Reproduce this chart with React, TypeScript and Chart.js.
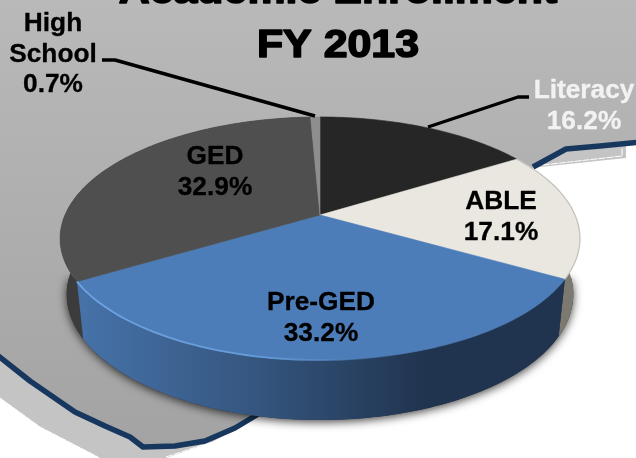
import React, { useEffect, useRef } from "react";
import { Chart, registerables } from "chart.js";

Chart.register(...registerables);

const categories = ["Literacy", "ABLE", "Pre-GED", "GED", "High School"];
const shares = [16.2, 17.1, 33.2, 32.9, 0.7];
const titleLines = ["Academic Enrollment", "FY 2013"];

const topColors = ["#262626", "#e9e7df", "#4d7db8", "#4f4f4f", "#8e8e8e"];
const labelLines = [["Literacy"], ["ABLE"], ["Pre-GED"], ["GED"], ["High", "School"]];
const labelAnchors = [[584, 98], [501, 209], [321, 310], [215, 164], [53, 31]];
const labelColors = ["#f2f2f2", "#000", "#000", "#000", "#000"];

const W = 636, H = 458;
const K = -0.1934;
const project = (a: number, hubY: number, ax: number, by: number) => {
  const x = Math.cos(a), y = Math.sin(a), d = 1 + K * y;
  return [320 + (ax * x) / d, hubY + (by * y) / d];
};
const topP = (a: number) => project(a, 215, 255, 117);
const botP = (a: number) => project(a, 270, 248.5, 121);

const samples = (s: number, e: number) => {
  const n = Math.max(4, Math.ceil((e - s) / 0.02));
  return Array.from({ length: n + 1 }, (_, i) => s + ((e - s) * i) / n);
};
const poly = (ctx: any, pts: number[][]) => {
  pts.forEach((p, i) => (i ? ctx.lineTo(p[0], p[1]) : ctx.moveTo(p[0], p[1])));
};

const navyLeft = [[-4, 354], [30, 381], [75, 412], [105, 426], [130, 437], [143, 447], [175, 446], [205, 441], [235, 428], [255, 416], [275, 402]];
const navyRight = [[533, 167], [566, 149], [600, 146], [640, 142]];

const backdrop = {
  id: "backdrop",
  beforeDraw(chart: any) {
    const c = chart.ctx;
    c.save();
    c.fillStyle = "#fff";
    c.fillRect(0, 0, W, H);
    c.fillStyle = "#c4c4c4";
    c.beginPath();
    poly(c, [[0, 350], [0, 398], [40, 427], [100, 458], [166, 458], [212, 442], [262, 414], [300, 300]]);
    c.closePath();
    c.fill();
    c.beginPath();
    poly(c, [[530, 168], [540, 167], [626, 158], [626, 140], [560, 145]]);
    c.closePath();
    c.fill();
    c.strokeStyle = "#fff";
    c.lineWidth = 1;
    c.setLineDash([7, 1]);
    c.beginPath();
    poly(c, [[0, 398], [40, 427], [98, 457]]);
    c.stroke();
    c.beginPath();
    poly(c, [[166, 457], [212, 442]]);
    c.stroke();
    c.beginPath();
    poly(c, [[543, 165], [622, 156], [622, 148]]);
    c.stroke();
    c.setLineDash([]);
    const g = c.createLinearGradient(0, 0, 0, 450);
    g.addColorStop(0, "#b9b9b9");
    g.addColorStop(1, "#a3a3a3");
    c.fillStyle = g;
    c.beginPath();
    poly(c, [[0, 0], [W, 0], ...navyRight.slice().reverse(), ...navyLeft.slice().reverse()]);
    c.closePath();
    c.fill();
    c.strokeStyle = "#17375e";
    c.lineWidth = 5.5;
    c.lineJoin = "round";
    c.beginPath();
    poly(c, navyLeft);
    c.stroke();
    c.beginPath();
    poly(c, navyRight);
    c.stroke();
    c.restore();
  },
};

const pie3d = {
  id: "pie3d",
  beforeDatasetsDraw(chart: any) {
    const c = chart.ctx;
    const arcs = chart.getDatasetMeta(0).data;
    const colors = chart.data.datasets[0].backgroundColor;
    c.save();
    c.save();
    c.shadowColor = "rgba(0,0,0,0.75)";
    c.shadowBlur = 10;
    c.shadowOffsetY = 2;
    c.fillStyle = "#333";
    c.beginPath();
    poly(c, samples(Math.PI * 0.02, Math.PI * 0.98).map(botP));
    c.closePath();
    c.fill();
    c.restore();
    const blue = c.createLinearGradient(83, 0, 425, 0);
    blue.addColorStop(0, "#4672a8");
    blue.addColorStop(0.5, "#35567f");
    blue.addColorStop(1, "#20344f");
    const wall = [null, "#7b7970", blue, "#3c3c3c", null];
    [3, 1, 2].forEach((i) => {
      const { startAngle: s, endAngle: e } = arcs[i];
      const a = samples(s, e);
      c.fillStyle = wall[i];
      c.beginPath();
      poly(c, [...a.map(topP), ...a.slice().reverse().map(botP)]);
      c.closePath();
      c.fill();
    });
    arcs.forEach((arc: any, i: number) => {
      c.fillStyle = colors[i];
      c.beginPath();
      poly(c, [[320, 215], ...samples(arc.startAngle, arc.endAngle).map(topP)]);
      c.closePath();
      c.fill();
      c.strokeStyle = colors[i];
      c.lineWidth = 0.6;
      c.stroke();
    });
    const bevel = c.createLinearGradient(78, 0, 400, 0);
    bevel.addColorStop(0, "#6fa3e2");
    bevel.addColorStop(0.6, "#659ad8");
    bevel.addColorStop(1, "rgba(77,125,184,0)");
    c.strokeStyle = bevel;
    c.lineWidth = 1.8;
    c.beginPath();
    poly(c, samples(arcs[2].startAngle, arcs[2].endAngle).map(topP));
    c.stroke();
    c.strokeStyle = "#c4c2ba";
    c.lineWidth = 1.2;
    c.beginPath();
    poly(c, samples(arcs[1].startAngle, arcs[1].endAngle).map(topP));
    c.stroke();
    c.restore();
    return false;
  },
};

const wideText = (c: any, t: string, x: number, y: number, sx: number, stroke: number) => {
  c.save();
  c.translate(x, y);
  c.scale(sx, 1);
  c.fillText(t, 0, 0);
  if (stroke) {
    c.lineWidth = stroke;
    c.strokeStyle = c.fillStyle;
    c.strokeText(t, 0, 0);
  }
  c.restore();
};

const annotations = {
  id: "annotations",
  afterDraw(chart: any) {
    const c = chart.ctx;
    c.save();
    c.textAlign = "center";
    c.textBaseline = "alphabetic";
    c.fillStyle = "#000";
    c.strokeStyle = "#000";
    c.lineJoin = "round";
    c.font = 'bold 39px "Liberation Sans"';
    titleLines.forEach((t, i) => {
      const y = i === 0 ? 3 : 56.5;
      wideText(c, t, 338, y, 1.1, 1.6);
    });
    c.lineWidth = 3.4;
    c.strokeStyle = "#000";
    c.beginPath();
    poly(c, [[102, 60], [115, 60], [315, 116]]);
    c.stroke();
    c.beginPath();
    poly(c, [[428, 127], [518, 97], [529, 97]]);
    c.stroke();
    c.font = 'bold 25.5px "Liberation Sans"';
    categories.forEach((_, i) => {
      const [x, y0] = labelAnchors[i];
      c.fillStyle = labelColors[i];
      const lines = [...labelLines[i], `${shares[i].toFixed(1)}%`];
      lines.forEach((t, k) => wideText(c, t, x, y0 + k * 30.5, 1.03, 0.3));
    });
    c.restore();
  },
};

export default function App() {
  const ref = useRef<HTMLCanvasElement>(null);
  useEffect(() => {
    const chart = new Chart(ref.current as HTMLCanvasElement, {
      type: "pie",
      data: {
        labels: categories,
        datasets: [{ data: shares, backgroundColor: topColors, borderWidth: 0 }],
      },
      options: {
        responsive: false,
        animation: false,
        plugins: { legend: { display: false }, tooltip: { enabled: false }, title: { display: false } },
      },
      plugins: [backdrop, pie3d, annotations],
    } as any);
    return () => chart.destroy();
  }, []);
  return (
    <div style={{ position: "absolute", left: 0, top: 0, width: W, height: H, overflow: "hidden" }}>
      <canvas ref={ref} width={W} height={H} style={{ display: "block" }} />
    </div>
  );
}
